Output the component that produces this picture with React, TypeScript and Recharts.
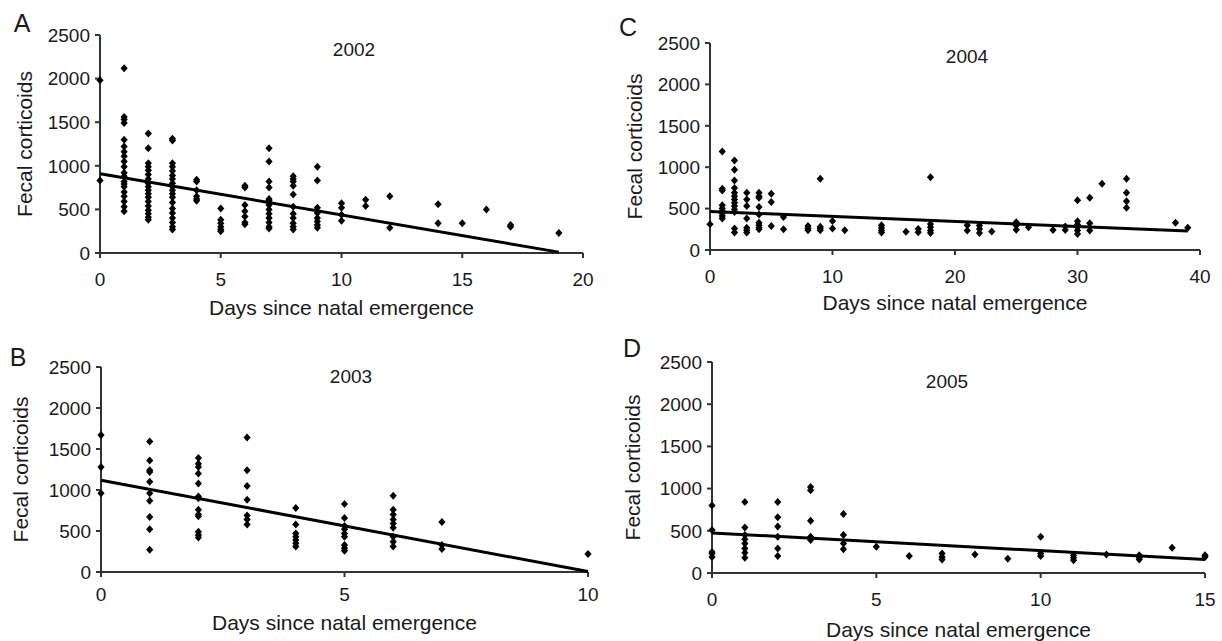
import { ScatterChart, Scatter, XAxis, YAxis } from "recharts";

type Group = [number, number[]];

const X_TITLE = "Days since natal emergence";
const Y_TITLE = "Fecal corticoids";
const Y_TICKS = [0, 500, 1000, 1500, 2000, 2500];

const cort2002: Group[] = [
  [0, [1980, 830]],
  [1, [2120, 1560, 1530, 1490, 1300, 1220, 1160, 1110, 1050, 990, 920, 880, 820, 790, 760, 700, 650, 590, 530, 480]],
  [2, [1370, 1200, 1030, 990, 950, 900, 850, 800, 760, 720, 680, 640, 590, 540, 490, 450, 410, 380]],
  [3, [1310, 1290, 1030, 990, 940, 890, 850, 800, 760, 720, 680, 640, 580, 510, 460, 400, 350, 300, 270]],
  [4, [840, 820, 720, 650, 620, 600]],
  [5, [510, 380, 340, 300, 270, 250]],
  [6, [770, 750, 550, 480, 420, 350, 330]],
  [7, [1200, 1050, 820, 750, 620, 600, 580, 550, 500, 450, 400, 350, 300, 280]],
  [8, [880, 850, 820, 770, 670, 530, 450, 400, 340, 300, 270]],
  [9, [990, 830, 520, 460, 400, 360, 320, 290]],
  [10, [570, 520, 440, 370]],
  [11, [610, 540]],
  [12, [650, 290]],
  [14, [560, 340]],
  [15, [340]],
  [16, [500]],
  [17, [320, 300]],
  [19, [230]],
];
const fit2002 = [{ x: 0, y: 910 }, { x: 19, y: 10 }];

const cort2003: Group[] = [
  [0, [1670, 1280, 960]],
  [1, [1590, 1360, 1240, 1220, 1100, 960, 870, 670, 520, 270]],
  [2, [1390, 1320, 1280, 1200, 1080, 920, 900, 760, 700, 680, 490, 450, 420]],
  [3, [1640, 1240, 1050, 880, 690, 640, 580]],
  [4, [780, 580, 470, 430, 390, 350, 310]],
  [5, [830, 660, 560, 520, 470, 430, 330, 290, 260]],
  [6, [930, 760, 700, 640, 590, 540, 430, 370, 310]],
  [7, [610, 330, 280]],
  [10, [220]],
];
const fit2003 = [{ x: 0, y: 1120 }, { x: 10, y: 5 }];

const cort2004: Group[] = [
  [0, [310]],
  [1, [1190, 740, 720, 540, 500, 470, 440, 410, 380]],
  [2, [1080, 970, 840, 750, 690, 650, 610, 570, 530, 490, 460, 260, 210]],
  [3, [690, 610, 530, 380, 270, 240, 210]],
  [4, [690, 650, 630, 520, 430, 330, 300, 270, 250]],
  [5, [680, 580, 290]],
  [6, [400, 250]],
  [8, [290, 260, 240]],
  [9, [860, 280, 260, 240]],
  [10, [350, 260]],
  [11, [240]],
  [14, [300, 270, 240, 210]],
  [16, [220]],
  [17, [255, 215]],
  [18, [880, 315, 275, 235, 205]],
  [21, [300, 235]],
  [22, [295, 255, 206]],
  [23, [222]],
  [25, [336, 295, 245]],
  [26, [275]],
  [28, [243]],
  [29, [283, 243]],
  [30, [600, 348, 307, 275, 235, 194]],
  [31, [630, 324, 235]],
  [32, [800]],
  [34, [860, 690, 590, 510]],
  [38, [330]],
  [39, [270]],
];
const fit2004 = [{ x: 0, y: 465 }, { x: 39, y: 230 }];

const cort2005: Group[] = [
  [0, [800, 510, 250, 230, 190]],
  [1, [840, 540, 450, 400, 350, 290, 240, 180]],
  [2, [840, 660, 550, 430, 290, 200]],
  [3, [1020, 980, 620, 430, 390]],
  [4, [700, 450, 350, 280]],
  [5, [310]],
  [6, [200]],
  [7, [230, 190, 160]],
  [8, [220]],
  [9, [170]],
  [10, [430, 230, 200]],
  [11, [210, 180, 150]],
  [12, [220]],
  [13, [210, 180, 160]],
  [14, [300]],
  [15, [210, 190]],
];
const fit2005 = [{ x: 0, y: 475 }, { x: 15, y: 160 }];

const FONT = "Arial, 'Liberation Sans', Helvetica, sans-serif";
const INK = "#1a1a1a";
const AXIS = "#333";

const flatten = (groups: Group[]) =>
  groups.flatMap(([x, ys]) => ys.map((y) => ({ x, y })));

function Diamond(props: any) {
  const { cx, cy } = props;
  if (cx == null || cy == null) return <g />;
  return (
    <path
      d={`M${cx},${cy - 4}L${cx + 3.6},${cy}L${cx},${cy + 4}L${cx - 3.6},${cy}Z`}
      fill="#000"
    />
  );
}

type PanelProps = {
  letter: string;
  year: string;
  groups: Group[];
  fit: { x: number; y: number }[];
  xMax: number;
  xTicks: number[];
  // plot area in page pixels
  left: number;
  top: number;
  plotW: number;
  plotH: number;
  tickGap: number;
  xTitleGap: number;
  yTitleGap: number;
  letterAt: [number, number];
  yearAt: [number, number];
};

const YW = 100;
const MT = 30;
const MR = 20;
const XH = 30;
const MB = 50;

function Panel(p: PanelProps) {
  const tick = { fill: INK, fontSize: 19, fontFamily: FONT };
  return (
    <>
      <div style={{ position: "absolute", left: p.left - YW, top: p.top - MT }}>
        <ScatterChart
          width={YW + p.plotW + MR}
          height={MT + p.plotH + XH + MB}
          margin={{ top: MT, right: MR, bottom: MB, left: 0 }}
        >
          <XAxis
            type="number"
            dataKey="x"
            domain={[0, p.xMax]}
            ticks={p.xTicks}
            height={XH}
            tickSize={5}
            tickMargin={p.tickGap}
            tick={tick}
            axisLine={{ stroke: AXIS, strokeWidth: 2 }}
            tickLine={{ stroke: AXIS, strokeWidth: 2 }}
            label={{
              value: X_TITLE,
              position: "bottom",
              offset: p.xTitleGap - 7.5 - XH,
              style: { fill: INK, fontSize: 21, fontFamily: FONT },
            }}
          />
          <YAxis
            type="number"
            dataKey="y"
            domain={[0, 2500]}
            ticks={Y_TICKS}
            width={YW}
            tickSize={5}
            tickMargin={5}
            tick={tick}
            axisLine={{ stroke: AXIS, strokeWidth: 2 }}
            tickLine={{ stroke: AXIS, strokeWidth: 2 }}
            label={{
              value: Y_TITLE,
              angle: -90,
              position: "insideLeft",
              offset: YW - p.yTitleGap,
              style: { textAnchor: "middle", fill: INK, fontSize: 21, fontFamily: FONT },
            }}
          />
          <Scatter data={flatten(p.groups)} shape={Diamond} isAnimationActive={false} />
          <Scatter
            data={p.fit}
            line={{ stroke: "#000", strokeWidth: 3 }}
            shape={() => <g />}
            isAnimationActive={false}
          />
        </ScatterChart>
      </div>
      <div
        style={{
          position: "absolute",
          left: p.letterAt[0],
          top: p.letterAt[1],
          transform: "translate(-50%, -50%)",
          fontSize: 25,
          color: INK,
        }}
      >
        {p.letter}
      </div>
      <div
        style={{
          position: "absolute",
          left: p.yearAt[0],
          top: p.yearAt[1],
          transform: "translate(-50%, -50%)",
          fontSize: 19,
          color: INK,
        }}
      >
        {p.year}
      </div>
    </>
  );
}

export default function App() {
  return (
    <div
      style={{
        position: "absolute",
        left: 0,
        top: 0,
        width: 1222,
        height: 641,
        background: "#fff",
        fontFamily: FONT,
        overflow: "hidden",
      }}
    >
      <Panel
        letter="A"
        year="2002"
        groups={cort2002}
        fit={fit2002}
        xMax={20}
        xTicks={[0, 5, 10, 15, 20]}
        left={100}
        top={35}
        plotW={483}
        plotH={218}
        tickGap={15}
        xTitleGap={55}
        yTitleGap={75}
        letterAt={[22, 23]}
        yearAt={[354, 50]}
      />
      <Panel
        letter="C"
        year="2004"
        groups={cort2004}
        fit={fit2004}
        xMax={40}
        xTicks={[0, 10, 20, 30, 40]}
        left={710}
        top={43}
        plotW={490}
        plotH={207}
        tickGap={15}
        xTitleGap={53}
        yTitleGap={75}
        letterAt={[628, 27]}
        yearAt={[967, 57]}
      />
      <Panel
        letter="B"
        year="2003"
        groups={cort2003}
        fit={fit2003}
        xMax={10}
        xTicks={[0, 5, 10]}
        left={101}
        top={367}
        plotW={487}
        plotH={205}
        tickGap={11}
        xTitleGap={51}
        yTitleGap={80}
        letterAt={[18, 357]}
        yearAt={[351, 377]}
      />
      <Panel
        letter="D"
        year="2005"
        groups={cort2005}
        fit={fit2005}
        xMax={15}
        xTicks={[0, 5, 10, 15]}
        left={712}
        top={362}
        plotW={493}
        plotH={211}
        tickGap={15}
        xTitleGap={57}
        yTitleGap={79}
        letterAt={[632, 348]}
        yearAt={[947, 382]}
      />
    </div>
  );
}
